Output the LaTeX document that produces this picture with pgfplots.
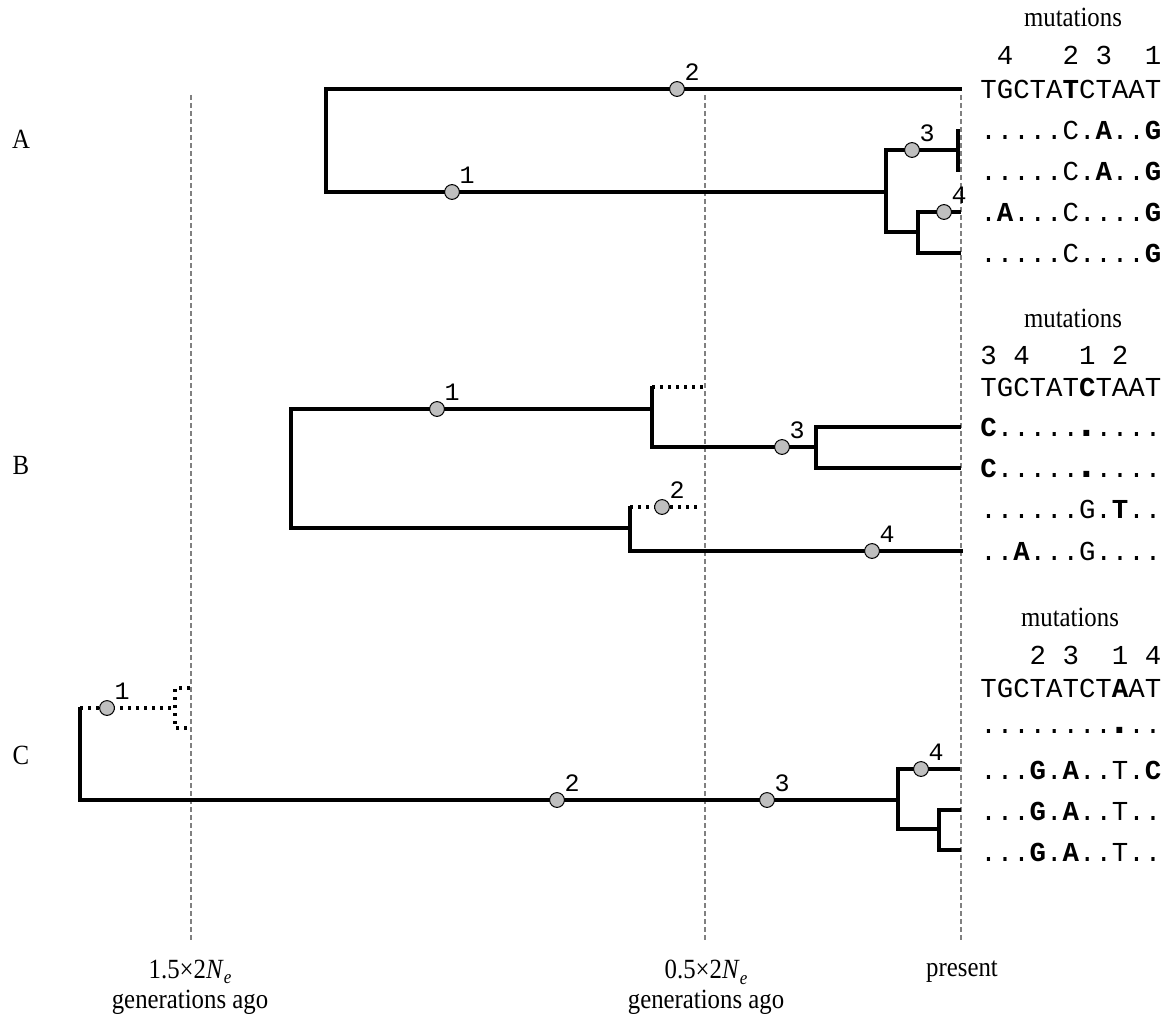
\documentclass[border=0pt]{standalone}
\usepackage{pgfplots}
\usepackage{pgfplotstable}
\pgfplotsset{compat=1.18}
\usepackage{fontspec}
\setmainfont{Liberation Serif}
\setmonofont{Liberation Mono}

\newcommand{\seqfont}{\fontsize{13.7}{15}\ttfamily}
\newcommand{\labfont}{\fontsize{12.4}{14}\selectfont}
\newcommand{\tall}[1]{\scalebox{1}[1.12]{#1}}
\newcommand{\sk}[1]{\hphantom{#1}}
\newcommand{\Ne}{\textit{N}\raisebox{-0.45ex}{\fontsize{8.5}{9}\selectfont\textit{e}}}
\newcommand{\bdot}{\makebox[\fontcharwd\font`.][c]{\smash{\scalebox{1.5}{\textbf{.}}}}}

% mutation positions (pixels of the original figure, y downwards)
\pgfplotstableread{
x   y   lab
677 89  2
452 192 1
912 150 3
944 212 4
437 409 1
782 447 3
662 507 2
872 551 4
107 708 1
557 800 2
767 800 3
921 769 4
}\mutations

\begin{document}
\begin{tikzpicture}
\begin{axis}[
    width=585.5pt, height=511pt, scale only axis,
    xmin=0, xmax=1171, ymin=0, ymax=1022,
    y dir=reverse,
    hide axis, clip=false,
    branch/.style={black, line width=1.7pt, line join=miter, line cap=rect, mark=none},
    lost/.style={black, line width=1.7pt, dash pattern=on 1.6pt off 2.4pt, mark=none},
    guide/.style={gray, line width=0.6pt, dash pattern=on 2.5pt off 1.5pt, mark=none},
]

% keep the full frame as the picture's extent
\addplot[draw=none, mark=none, forget plot] coordinates {(0,0) (1171,1022)};

% time guides
\addplot[guide] coordinates {(191,95) (191,940)};
\addplot[guide] coordinates {(705,95) (705,940)};
\addplot[guide] coordinates {(961,95) (961,940)};

% panel A
\addplot[branch] coordinates {(960,89) (326,89) (326,192) (886,192)};
\addplot[branch] coordinates {(958,150) (886,150) (886,232) (918,232)};
\addplot[branch] coordinates {(959,212) (918,212) (918,253) (959,253)};
\addplot[branch] coordinates {(958,131) (958,170)};

% panel B
\addplot[branch] coordinates {(652,409) (291,409) (291,528) (630,528)};
\addplot[branch] coordinates {(652,388) (652,447) (816,447)};
\addplot[lost]   coordinates {(652,387) (706,387)};
\addplot[branch] coordinates {(959,427) (816,427) (816,468) (959,468)};
\addplot[branch] coordinates {(630,508) (630,551) (961,551)};
\addplot[lost]   coordinates {(630,507) (698,507)};

% panel C
\addplot[branch] coordinates {(80,709) (80,800) (898,800)};
\addplot[lost]   coordinates {(80,708) (175,708)};
\addplot[lost]   coordinates {(190,688) (175,688) (175,728) (190,728)};
\addplot[branch] coordinates {(958,769) (898,769) (898,829) (939,829)};
\addplot[branch] coordinates {(959,810) (939,810) (939,850) (959,850)};

% mutations
\addplot[only marks, mark=*, mark size=3.7pt,
    mark options={fill=black!25, draw=black, line width=0.5pt},
    nodes near coords, point meta=explicit symbolic,
    every node near coord/.style={anchor=center, xshift=7.5pt, yshift=8.5pt,
        font=\fontsize{12.5}{14}\ttfamily, inner sep=0pt}]
    table[x=x, y=y, meta=lab] {\mutations};

% panel letters
\node[font=\labfont] at (axis cs:21,139) {\tall{A}};
\node[font=\labfont] at (axis cs:21,465) {\tall{B}};
\node[font=\labfont] at (axis cs:21,755) {\tall{C}};

% sequences A
\node[font=\labfont] at (axis cs:1073,17) {\tall{mutations}};
\begin{scope}[every node/.style={anchor=west, inner sep=0pt, font=\seqfont}]
\node at (axis cs:980,55)  {\sk{0}4\sk{000}2\sk{0}3\sk{00}1};
\node at (axis cs:980,89)  {TGCTA\textbf{T}CTAAT};
\node at (axis cs:980,130) {.....C.\textbf{A}..\textbf{G}};
\node at (axis cs:980,171) {.....C.\textbf{A}..\textbf{G}};
\node at (axis cs:980,212) {.\textbf{A}...C....\textbf{G}};
\node at (axis cs:980,253) {.....C....\textbf{G}};
\end{scope}

% sequences B
\node[font=\labfont] at (axis cs:1073,318) {\tall{mutations}};
\begin{scope}[every node/.style={anchor=west, inner sep=0pt, font=\seqfont}]
\node at (axis cs:980,355) {3\sk{0}4\sk{000}1\sk{0}2};
\node at (axis cs:980,387) {TGCTAT\textbf{C}TAAT};
\node at (axis cs:980,427) {\textbf{C}.....\bdot....};
\node at (axis cs:980,468) {\textbf{C}.....\bdot....};
\node at (axis cs:980,509) {......G.\textbf{T}..};
\node at (axis cs:980,551) {..\textbf{A}...G....};
\end{scope}

% sequences C
\node[font=\labfont] at (axis cs:1070,617) {\tall{mutations}};
\begin{scope}[every node/.style={anchor=west, inner sep=0pt, font=\seqfont}]
\node at (axis cs:980,655) {\sk{000}2\sk{0}3\sk{00}1\sk{0}4};
\node at (axis cs:980,688) {TGCTATCT\textbf{A}AT};
\node at (axis cs:980,731) {........\bdot..};
\node at (axis cs:980,770) {...\textbf{G}.\textbf{A}..T.\textbf{C}};
\node at (axis cs:980,811) {...\textbf{G}.\textbf{A}..T..};
\node at (axis cs:980,852) {...\textbf{G}.\textbf{A}..T..};
\end{scope}

% time labels
\node[font=\labfont] at (axis cs:190,972)  {\tall{1.5×2\Ne}};
\node[font=\labfont] at (axis cs:190,1002) {\tall{generations ago}};
\node[font=\labfont] at (axis cs:706,972)  {\tall{0.5×2\Ne}};
\node[font=\labfont] at (axis cs:706,1002) {\tall{generations ago}};
\node[font=\labfont] at (axis cs:962,972)  {\tall{present}};

\end{axis}
\end{tikzpicture}
\end{document}
